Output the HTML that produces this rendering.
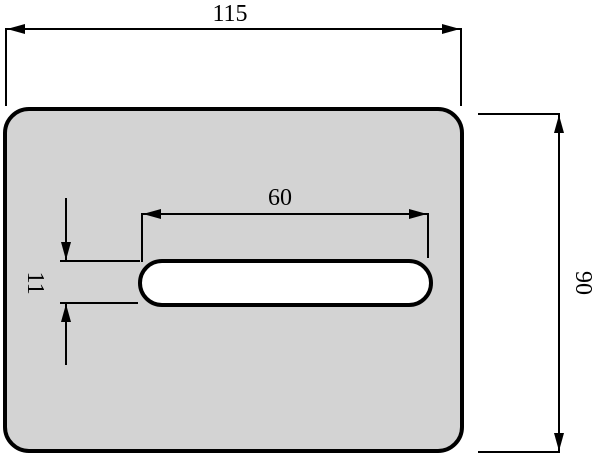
<!DOCTYPE html>
<html><head><style>body{margin:0;background:#fff}</style></head><body>
<svg width="600" height="457" viewBox="0 0 600 457" xmlns="http://www.w3.org/2000/svg">
<defs><marker id="a" markerWidth="18" markerHeight="10" refX="18" refY="5" orient="auto-start-reverse" markerUnits="userSpaceOnUse"><path d="M0,0 L18,5 L0,10 Z" fill="#000"/></marker></defs>
<rect x="5" y="109" width="457" height="342" rx="24" fill="#d3d3d3" stroke="#000" stroke-width="4"/>
<rect x="140" y="261" width="291" height="44" rx="22" fill="#fff" stroke="#000" stroke-width="4"/>
<g stroke="#000" stroke-width="2" fill="none">
<line x1="6" y1="28" x2="6" y2="106"/><line x1="461" y1="28" x2="461" y2="106"/>
<line x1="7" y1="29" x2="460" y2="29" marker-start="url(#a)" marker-end="url(#a)"/>
<line x1="478" y1="114" x2="560" y2="114"/><line x1="478" y1="452" x2="560" y2="452"/>
<line x1="559" y1="115" x2="559" y2="451" marker-start="url(#a)" marker-end="url(#a)"/>
<line x1="142" y1="213" x2="142" y2="262"/><line x1="428" y1="213" x2="428" y2="258"/>
<line x1="143" y1="214" x2="427" y2="214" marker-start="url(#a)" marker-end="url(#a)"/>
<line x1="60" y1="261" x2="140" y2="261"/><line x1="60" y1="303" x2="138" y2="303"/>
<line x1="66" y1="198" x2="66" y2="260" marker-end="url(#a)"/>
<line x1="66" y1="365" x2="66" y2="304" marker-end="url(#a)"/>
</g>
<g font-family="Liberation Serif, serif" font-size="24" fill="#000" text-anchor="middle">
<text x="230" y="21">115</text>
<text x="280" y="205">60</text>
<text transform="translate(576,283) rotate(90)">90</text>
<text transform="translate(28,283) rotate(90)">11</text>
</g>
</svg>
</body></html>
